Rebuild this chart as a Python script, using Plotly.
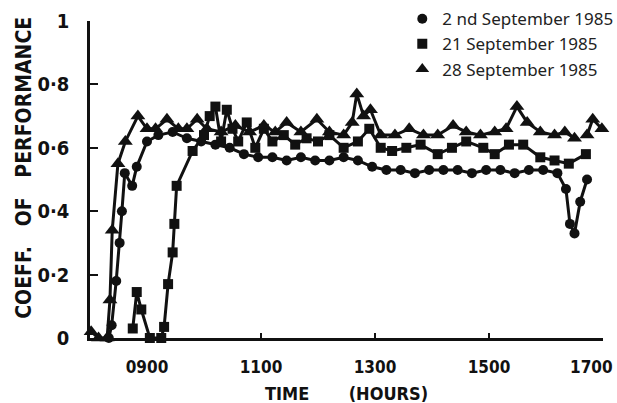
import plotly.graph_objects as go

# Time of day in decimal hours, coefficient of performance
t_sep02 = [8.33, 8.38, 8.46, 8.52, 8.56, 8.61, 8.74, 8.82, 9.00, 9.20, 9.45, 9.70, 9.95,
           10.20, 10.45, 10.70, 10.95, 11.20, 11.45, 11.70, 11.95, 12.20, 12.45, 12.70,
           12.95, 13.20, 13.45, 13.70, 13.95, 14.20, 14.45, 14.70, 14.95, 15.20, 15.45,
           15.70, 15.95, 16.20, 16.35, 16.42, 16.50, 16.60, 16.72]
cop_sep02 = [0.00, 0.04, 0.18, 0.30, 0.40, 0.52, 0.48, 0.54, 0.62, 0.64, 0.65, 0.63, 0.62,
             0.61, 0.60, 0.58, 0.57, 0.57, 0.56, 0.57, 0.56, 0.56, 0.57, 0.56,
             0.54, 0.53, 0.53, 0.52, 0.53, 0.53, 0.53, 0.52, 0.53, 0.53, 0.52,
             0.53, 0.53, 0.52, 0.47, 0.36, 0.33, 0.43, 0.50]

t_sep21 = [8.75, 8.82, 8.90, 9.05, 9.25, 9.30, 9.37, 9.45, 9.48, 9.52, 9.80, 10.00, 10.10,
           10.20, 10.30, 10.40, 10.50, 10.60, 10.75, 10.90, 11.05, 11.20, 11.40, 11.60,
           11.80, 12.00, 12.20, 12.45, 12.70, 12.90, 13.10, 13.30, 13.55, 13.80, 14.10,
           14.35, 14.60, 14.90, 15.10, 15.35, 15.60, 15.90, 16.15, 16.40, 16.70]
cop_sep21 = [0.03, 0.145, 0.09, 0.00, 0.00, 0.035, 0.17, 0.27, 0.36, 0.48, 0.59, 0.64, 0.70,
             0.73, 0.62, 0.72, 0.66, 0.62, 0.68, 0.60, 0.66, 0.62, 0.64, 0.61,
             0.63, 0.62, 0.64, 0.60, 0.62, 0.66, 0.60, 0.59, 0.60, 0.61, 0.58,
             0.60, 0.62, 0.60, 0.58, 0.61, 0.61, 0.57, 0.56, 0.55, 0.58]

t_sep28 = [8.02, 8.15, 8.30, 8.35, 8.39, 8.49, 8.62, 8.84, 9.00, 9.15, 9.35, 9.55, 9.70,
           9.88, 10.05, 10.30, 10.55, 10.80, 11.05, 11.25, 11.45, 11.70, 11.98, 12.20,
           12.45, 12.60, 12.68, 12.80, 12.92, 13.10, 13.35, 13.60, 13.85, 14.10, 14.37,
           14.60, 14.85, 15.10, 15.30, 15.49, 15.67, 15.90, 16.15, 16.33, 16.50, None,
           16.72, 16.82, 16.98]
cop_sep28 = [0.02, 0.00, 0.00, 0.12, 0.34, 0.55, 0.62, 0.70, 0.66, 0.66, 0.69, 0.66, 0.66,
             0.69, 0.66, 0.65, 0.67, 0.65, 0.67, 0.65, 0.68, 0.65, 0.69, 0.65,
             0.64, 0.68, 0.77, 0.70, 0.72, 0.64, 0.64, 0.66, 0.64, 0.64, 0.67,
             0.65, 0.64, 0.65, 0.66, 0.73, 0.68, 0.65, 0.64, 0.65, 0.63, None,
             0.64, 0.69, 0.66]

series_names = ["2 nd September 1985", "21 September 1985", "28 September 1985"]
x_tickvals = [9, 11, 13, 15, 17]
x_ticktext = ["0900", "1100", "1300", "1500", "1700"]
y_tickvals = [0, 0.2, 0.4, 0.6, 0.8, 1]
y_ticktext = ["0", "0·2", "0·4", "0·6", "0·8", "1"]

INK = "#111111"
NARROW = "Liberation Sans Narrow, DejaVu Sans Condensed, Arial Narrow, sans-serif"
XTICK_FONT = dict(family=NARROW, size=17, color=INK, weight="bold")

fig = go.Figure()

series = [
    (t_sep02, cop_sep02, "circle", 10),
    (t_sep21, cop_sep21, "square", 10),
    (t_sep28, cop_sep28, "triangle-up", 13),
]

for (tx, ty, sym, size), name in zip(series, series_names):
    fig.add_trace(go.Scatter(
        x=tx, y=ty, mode="lines+markers", name=name, showlegend=False,
        line=dict(color=INK, width=3), connectgaps=False,
        marker=dict(symbol=sym, size=size, color=INK),
        cliponaxis=False,
    ))

# Marker-only legend entries
for (tx, ty, sym, size), name in zip(series, series_names):
    fig.add_trace(go.Scatter(
        x=[None], y=[None], mode="markers", name=name,
        marker=dict(symbol=sym, size=10 if sym != "triangle-up" else 12, color=INK),
    ))

# The final hour label sits at the right edge of the page, so it is placed
# as a right-aligned annotation instead of a centred tick label.
edge_label = x_ticktext[-1]
axis_ticktext = x_ticktext[:-1] + [""]

fig.update_layout(
    width=617, height=403,
    margin=dict(l=90, r=14, t=21, b=65, autoexpand=False),
    paper_bgcolor="white", plot_bgcolor="white",
    showlegend=True,
    legend=dict(
        xref="container", yref="container",
        x=0.652, y=0.997, xanchor="left", yanchor="top",
        bgcolor="rgba(0,0,0,0)",
        font=dict(family="Noto Sans, Open Sans, sans-serif", size=17, color="#222222"),
        itemwidth=30, tracegroupgap=0,
    ),
    xaxis=dict(
        range=[8, 17], showgrid=False, zeroline=False,
        showline=True, linecolor=INK, linewidth=2.5,
        tickmode="array", tickvals=x_tickvals, ticktext=axis_ticktext,
        ticks="inside", ticklen=5, tickwidth=2, tickcolor=INK,
        tickfont=XTICK_FONT,
        ticklabelstandoff=12,
    ),
    yaxis=dict(
        range=[0, 1], showgrid=False, zeroline=False,
        showline=True, linecolor=INK, linewidth=2.5,
        tickmode="array", tickvals=y_tickvals, ticktext=y_ticktext,
        ticks="inside", ticklen=8, tickwidth=2, tickcolor=INK,
        tickfont=dict(family=NARROW, size=20, color=INK, weight="bold"),
        ticklabelstandoff=14,
    ),
    annotations=[
        dict(text=edge_label, xref="x", yref="paper", x=x_tickvals[-1], y=-0.092,
             xanchor="right", yanchor="middle", xshift=12, showarrow=False,
             font=XTICK_FONT),
        dict(text="COEFF.\u00a0\u00a0 OF\u00a0\u00a0 PERFORMANCE", textangle=-90,
             xref="paper", yref="paper", x=-0.128, y=0.538,
             xanchor="center", yanchor="middle", showarrow=False,
             font=dict(family=NARROW, size=21, color=INK, weight="bold")),
        dict(text="TIME\u00a0\u00a0\u00a0\u00a0\u00a0\u00a0\u00a0(HOURS)",
             xref="paper", yref="paper", x=0.5, y=-0.1755,
             xanchor="center", yanchor="middle", showarrow=False,
             font=dict(family=NARROW, size=18, color=INK, weight="bold")),
    ],
)

fig.write_html("out.html")
